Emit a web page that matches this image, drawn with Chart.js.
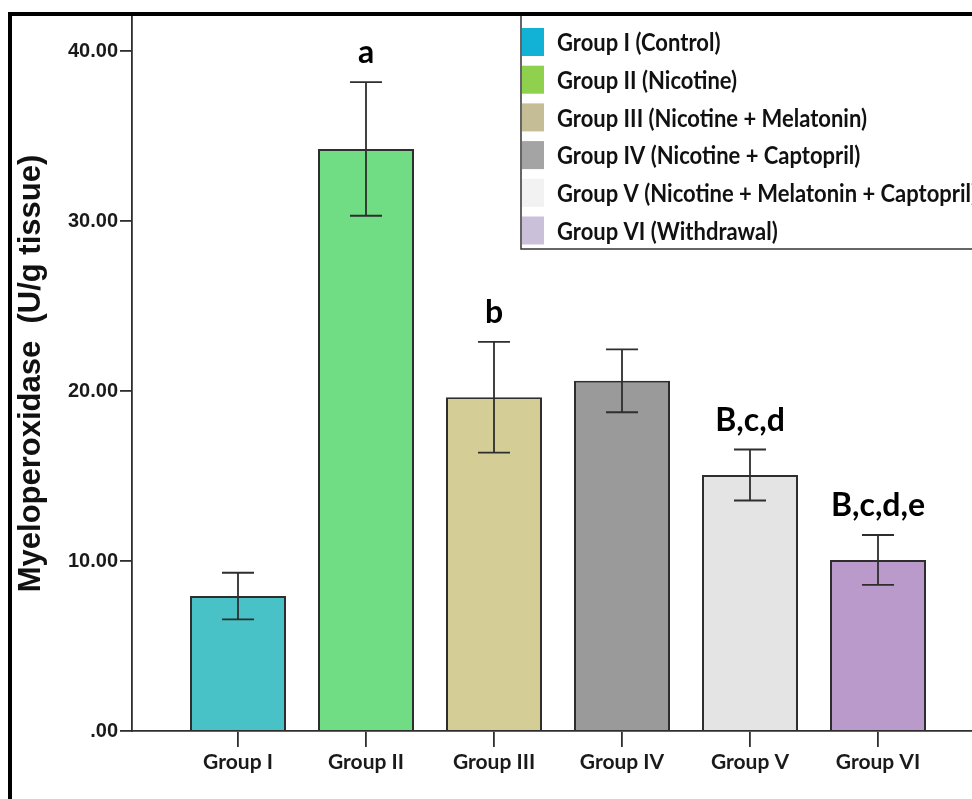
<!DOCTYPE html>
<html>
<head>
<meta charset="utf-8">
<script src="https://cdn.jsdelivr.net/npm/chart.js@4.4.1/dist/chart.umd.min.js"></script>
<style>
    html, body { margin: 0; padding: 0; background: #fff; overflow: hidden; }
    #wrap { position: relative; width: 972px; height: 799px; }
    #frame { position: absolute; left: 8px; top: 12px; width: 1000px; height: 800px;
             border-top: 4px solid #000; border-left: 4px solid #000; pointer-events: none; }
</style>
</head>
<body>
<div id="wrap">
    <canvas id="mpoChart" width="972" height="799"></canvas>
    <div id="frame"></div>
</div>
<script>
const groups = ['Group I', 'Group II', 'Group III', 'Group IV', 'Group V', 'Group VI'];
const legendNames = [
    'Group I (Control)',
    'Group II (Nicotine)',
    'Group III (Nicotine + Melatonin)',
    'Group IV (Nicotine + Captopril)',
    'Group V (Nicotine + Melatonin + Captopril)',
    'Group VI (Withdrawal)'
];
const mpoMeans = [7.94, 34.24, 19.63, 20.60, 15.06, 10.06];
const mpoErrors = [1.37, 3.93, 3.26, 1.85, 1.50, 1.47];
const sigLetters = ['', 'a', 'b', '', 'B,c,d', 'B,c,d,e'];
const yTicks = [0, 10, 20, 30, 40];

const barColors = ['#48c2c6', '#70dd84', '#d4ce96', '#9a9a9a', '#e4e4e4', '#b99aca'];
const legendColors = ['#12b1d6', '#90d04f', '#c4bd95', '#a4a4a4', '#f2f2f2', '#cbc0da'];

const lineColor = '#2e2e2e';

// error bars + significance letters
const errorBarPlugin = {
    id: 'errorBars',
    afterDatasetsDraw(chart) {
        const ctx = chart.ctx;
        const xs = chart.scales.x, ys = chart.scales.y;
        ctx.save();
        ctx.strokeStyle = lineColor;
        ctx.lineWidth = 1.8;
        mpoMeans.forEach((m, i) => {
            const x = xs.getPixelForValue(i + 1);
            const top = ys.getPixelForValue(m + mpoErrors[i]);
            const bot = ys.getPixelForValue(m - mpoErrors[i]);
            ctx.beginPath();
            ctx.moveTo(x, top); ctx.lineTo(x, bot);
            ctx.moveTo(x - 16, top); ctx.lineTo(x + 16, top);
            ctx.moveTo(x - 16, bot); ctx.lineTo(x + 16, bot);
            ctx.stroke();
            if (sigLetters[i]) {
                ctx.fillStyle = '#000';
                ctx.font = 'bold 32px Lato';
                ctx.textAlign = 'center';
                ctx.textBaseline = 'middle';
                ctx.fillText(sigLetters[i], x, top - 29);
            }
        });
        ctx.restore();
    }
};

// boxed legend in the top right corner
const boxLegendPlugin = {
    id: 'boxLegend',
    afterDraw(chart) {
        const ctx = chart.ctx;
        const left = 521, top = 14, bottom = 249;
        ctx.save();
        ctx.fillStyle = '#fff';
        ctx.fillRect(left, top, 500, bottom - top);
        ctx.strokeStyle = '#333';
        ctx.lineWidth = 1.5;
        ctx.strokeRect(left, top, 500, bottom - top);
        legendNames.forEach((name, i) => {
            const cy = 42 + i * 37.7;
            ctx.fillStyle = legendColors[i];
            ctx.fillRect(left + 1, cy - 14, 22, 28);
            ctx.save();
            ctx.translate(557, cy + 1);
            ctx.scale(1, 1.15);
            ctx.fillStyle = '#111';
            ctx.font = 'bold 22px Lato';
            ctx.textAlign = 'left';
            ctx.textBaseline = 'middle';
            ctx.fillText(name, 0, 0);
            ctx.restore();
        });
        ctx.restore();
    }
};

const ctx = document.getElementById('mpoChart').getContext('2d');
new Chart(ctx, {
    type: 'bar',
    data: {
        datasets: [{
            data: groups.map((g, i) => ({ x: i + 1, y: mpoMeans[i] })),
            backgroundColor: barColors,
            borderColor: lineColor,
            borderWidth: 2,
            barPercentage: 0.75,
            categoryPercentage: 1
        }]
    },
    options: {
        responsive: false,
        animation: false,
        layout: { padding: { top: 16, right: 0, left: 0, bottom: 0 } },
        plugins: {
            legend: { display: false },
            tooltip: { enabled: false }
        },
        scales: {
            x: {
                type: 'linear',
                offset: false,
                min: 0.171875,
                max: 6.734375,
                afterFit: s => { s.height = 68; },
                afterBuildTicks: s => { s.ticks = groups.map((g, i) => ({ value: i + 1 })); },
                border: { color: lineColor, width: 1.8 },
                grid: { offset: false, drawOnChartArea: false, tickLength: 16, color: lineColor, lineWidth: 1.8 },
                ticks: {
                    padding: 3,
                    autoSkip: false,
                    maxRotation: 0,
                    color: '#1a1a1a',
                    font: { family: 'Lato', weight: 'bold', size: 21 },
                    callback: v => groups[Math.round(v) - 1]
                }
            },
            y: {
                min: 0,
                max: 42.06,
                afterFit: s => { s.width = 132; },
                afterBuildTicks: s => { s.ticks = yTicks.map(v => ({ value: v })); },
                border: { color: lineColor, width: 1.8 },
                grid: { drawOnChartArea: false, tickLength: 12, color: lineColor, lineWidth: 1.8 },
                ticks: {
                    padding: 2,
                    color: '#1a1a1a',
                    font: { family: 'Liberation Sans', weight: 'bold', size: 20 },
                    callback: v => v === 0 ? '.00' : v.toFixed(2)
                },
                title: {
                    display: true,
                    text: 'Myeloperoxidase  (U/g tissue)',
                    color: '#111',
                    font: { family: 'Liberation Sans', weight: 'bold', size: 31, lineHeight: 1.2 },
                    padding: { top: 13, bottom: 0 }
                }
            }
        }
    },
    plugins: [errorBarPlugin, boxLegendPlugin]
});
</script>
</body>
</html>
